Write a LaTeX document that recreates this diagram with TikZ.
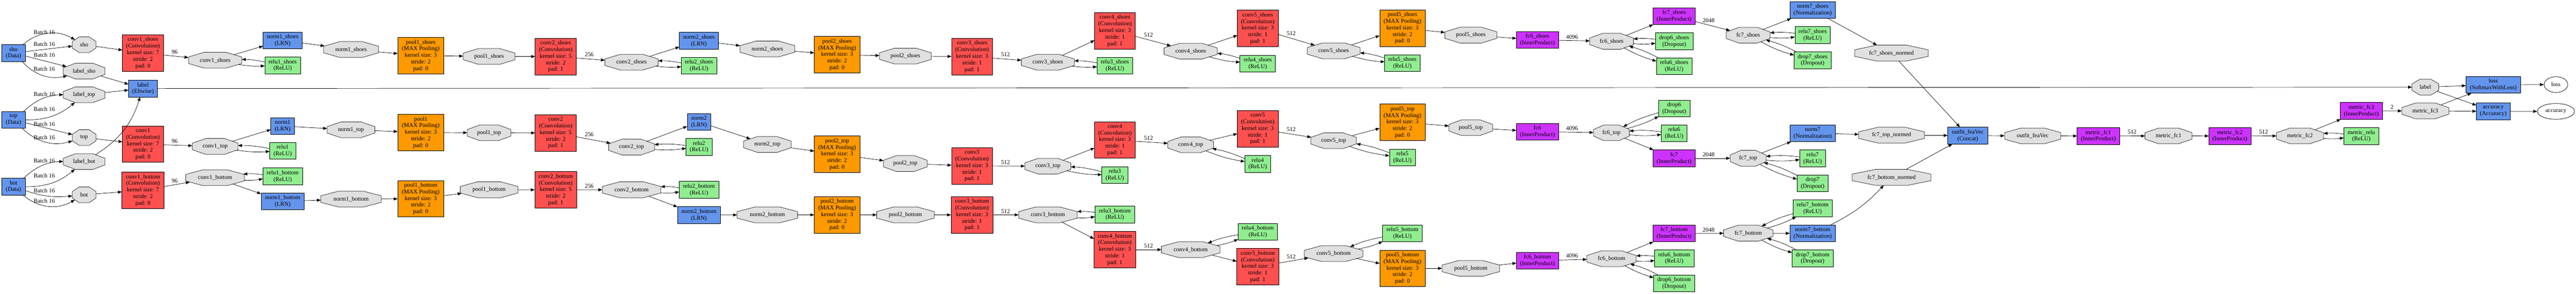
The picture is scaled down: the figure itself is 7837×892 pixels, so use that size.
\documentclass[tikz,border=0pt]{standalone}
\usepackage{fontspec}
\setmainfont{Liberation Serif}
\usetikzlibrary{arrows.meta,shapes.geometric}
\makeatletter
\pgfdeclareshape{gvoct}{%
  \inheritsavedanchors[from=rectangle]%
  \inheritanchor[from=rectangle]{center}%
  \inheritanchor[from=rectangle]{north}%
  \inheritanchor[from=rectangle]{south}%
  \inheritanchor[from=rectangle]{east}%
  \inheritanchor[from=rectangle]{west}%
  \inheritanchor[from=rectangle]{north east}%
  \inheritanchor[from=rectangle]{north west}%
  \inheritanchor[from=rectangle]{south east}%
  \inheritanchor[from=rectangle]{south west}%
  \backgroundpath{%
    \southwest \pgf@xa=\pgf@x \pgf@ya=\pgf@y
    \northeast \pgf@xb=\pgf@x \pgf@yb=\pgf@y
    \pgf@xc=\pgf@xb \advance\pgf@xc by -\pgf@xa
    \pgf@yc=\pgf@yb \advance\pgf@yc by -\pgf@ya
    \pgf@xc=0.293\pgf@xc
    \pgf@yc=0.293\pgf@yc
    \edef\gvXa{\the\pgf@xa}\edef\gvXb{\the\pgf@xb}%
    \edef\gvYa{\the\pgf@ya}\edef\gvYb{\the\pgf@yb}%
    \advance\pgf@xa by \pgf@xc \edef\gvXc{\the\pgf@xa}%
    \advance\pgf@xb by -\pgf@xc \edef\gvXd{\the\pgf@xb}%
    \advance\pgf@ya by \pgf@yc \edef\gvYc{\the\pgf@ya}%
    \advance\pgf@yb by -\pgf@yc \edef\gvYd{\the\pgf@yb}%
    \pgfpathmoveto{\pgfqpoint{\gvXa}{\gvYc}}%
    \pgfpathlineto{\pgfqpoint{\gvXa}{\gvYd}}%
    \pgfpathlineto{\pgfqpoint{\gvXc}{\gvYb}}%
    \pgfpathlineto{\pgfqpoint{\gvXd}{\gvYb}}%
    \pgfpathlineto{\pgfqpoint{\gvXb}{\gvYd}}%
    \pgfpathlineto{\pgfqpoint{\gvXb}{\gvYc}}%
    \pgfpathlineto{\pgfqpoint{\gvXd}{\gvYa}}%
    \pgfpathlineto{\pgfqpoint{\gvXc}{\gvYa}}%
    \pgfpathclose
  }%
  \anchorborder{%
    \edef\gvDx{\strip@pt\pgf@x}\edef\gvDy{\strip@pt\pgf@y}%
    \southwest \pgf@xa=\pgf@x \pgf@ya=\pgf@y
    \northeast
    \pgf@xc=\pgf@x \advance\pgf@xc by -\pgf@xa \pgf@xc=.5\pgf@xc
    \pgf@yc=\pgf@y \advance\pgf@yc by -\pgf@ya \pgf@yc=.5\pgf@yc
    \advance\pgf@xa by \pgf@xc \advance\pgf@ya by \pgf@yc
    \edef\gvCx{\the\pgf@xa}\edef\gvCy{\the\pgf@ya}%
    \edef\gvHw{\strip@pt\pgf@xc}\edef\gvHh{\strip@pt\pgf@yc}%
    \pgfmathsetmacro\gvU{max(abs(\gvDx)/\gvHw,0.001)}%
    \pgfmathsetmacro\gvV{max(abs(\gvDy)/\gvHh,0.001)}%
    \pgfmathsetmacro\gvT{min(min(1/\gvU,1/\gvV),1.414/(\gvU+\gvV))}%
    \pgfmathsetmacro\gvRx{\gvT*\gvDx}%
    \pgfmathsetmacro\gvRy{\gvT*\gvDy}%
    \pgf@x=\gvRx pt\relax \advance\pgf@x by \gvCx\relax
    \pgf@y=\gvRy pt\relax \advance\pgf@y by \gvCy\relax
  }%
}
\makeatother
\definecolor{convc}{HTML}{FF5050}
\definecolor{poolc}{HTML}{FF9900}
\definecolor{ipc}{HTML}{CC33FF}
\definecolor{bluc}{HTML}{6495ED}
\definecolor{grnc}{HTML}{90EE90}
\definecolor{blobc}{HTML}{E0E0E0}
\newcommand\convtxt[4]{#1\\(Convolution)\\kernel size: #2\\stride: #3\\pad: #4}
\newcommand\pooltxt[1]{#1\\(MAX Pooling)\\kernel size: 3\\stride: 2\\pad: 0}
\newcommand\inplc[2]{\draw[ar] (#1) to[bend right=6] (#2); \draw[ar] (#2) to[bend right=6] (#1);}
\tikzset{
  every node/.style={font=\fontsize{18}{20}\selectfont, align=center},
  lay/.style={rectangle, draw=black, line width=1.2pt, inner sep=1pt, outer sep=0pt},
  conv/.style={lay, fill=convc, minimum height=111pt},
  pool/.style={lay, fill=poolc, minimum height=111pt},
  ip/.style={lay, fill=ipc, minimum height=51pt},
  blu/.style={lay, fill=bluc, minimum height=51pt},
  grn/.style={lay, fill=grnc, minimum height=51pt},
  blob/.style={shape=gvoct, draw=black!85, fill=blobc, line width=1.2pt, minimum height=48pt, inner sep=1pt, outer sep=0pt},
  ell/.style={ellipse, draw=black, line width=1.2pt, minimum height=48pt, inner sep=0pt},
  ar/.style={-{Triangle[length=12pt,width=9pt]}, line width=1.1pt, black},
  lab/.style={inner sep=0pt},
}
\begin{document}
\begin{tikzpicture}[x=1pt,y=1pt]
\useasboundingbox (0,0) rectangle (7837,-892);
% ---------- inputs
\node[blu, minimum width=72pt] (d_sho) at (41,-161) {sho\\(Data)};
\node[blu, minimum width=72pt] (d_top) at (41,-364) {top\\(Data)};
\node[blu, minimum width=72pt] (d_bot) at (41,-567) {bot\\(Data)};
\node[blob, minimum width=72pt] (b_sho) at (256,-136) {sho};
\node[blob, minimum width=127pt] (b_label_sho) at (256,-216) {label\_sho};
\node[blob, minimum width=127pt] (b_label_top) at (256,-288) {label\_top};
\node[blob, minimum width=72pt] (b_top) at (256,-418) {top};
\node[blob, minimum width=127pt] (b_label_bot) at (256,-491) {label\_bot};
\node[blob, minimum width=72pt] (b_bot) at (256,-592) {bot};
\node[conv, minimum width=125pt] (l_conv1_shoes) at (435,-161) {\convtxt{conv1\_shoes}{7}{2}{0}};
\node[blu, minimum width=88pt] (l_label) at (435,-269) {label\\(Eltwise)};
\node[conv, minimum width=125pt] (l_conv1) at (435,-438) {\convtxt{conv1}{7}{2}{0}};
\node[conv, minimum width=128pt] (l_conv1_bottom) at (435,-578) {\convtxt{conv1\_bottom}{7}{2}{0}};
% ---------- shoes branch
\node[blob, minimum width=162pt] (b_conv1_shoes) at (654.5,-183) {conv1\_shoes};
\node[blu, minimum width=119pt] (l_norm1_shoes) at (860,-122.6) {norm1\_shoes\\(LRN)};
\node[grn, minimum width=109pt] (l_relu1_shoes) at (860,-198.5) {relu1\_shoes\\(ReLU)};
\node[blob, minimum width=167.5pt] (b_norm1_shoes) at (1068,-150.5) {norm1\_shoes};
\node[pool, minimum width=140pt] (l_pool1_shoes) at (1280,-169) {\pooltxt{pool1\_shoes}};
\node[blob, minimum width=158pt] (b_pool1_shoes) at (1488,-171.5) {pool1\_shoes};
\node[conv, minimum width=125pt] (l_conv2_shoes) at (1690.6,-171.8) {\convtxt{conv2\_shoes}{5}{2}{1}};
\node[blob, minimum width=162pt] (b_conv2_shoes) at (1921.3,-189) {conv2\_shoes};
\node[blu, minimum width=119pt] (l_norm2_shoes) at (2126.5,-123.7) {norm2\_shoes\\(LRN)};
\node[grn, minimum width=108pt] (l_relu2_shoes) at (2126.6,-200) {relu2\_shoes\\(ReLU)};
\node[blob, minimum width=167pt] (b_norm2_shoes) at (2334.5,-148.8) {norm2\_shoes};
\node[pool, minimum width=139pt] (l_pool2_shoes) at (2546.7,-166.4) {\pooltxt{pool2\_shoes}};
\node[blob, minimum width=158pt] (b_pool2_shoes) at (2754.5,-170.4) {pool2\_shoes};
\node[conv, minimum width=125pt] (l_conv3_shoes) at (2957.3,-172) {\convtxt{conv3\_shoes}{3}{1}{1}};
\node[blob, minimum width=161pt] (b_conv3_shoes) at (3187.9,-189) {conv3\_shoes};
\node[conv, minimum width=124pt] (l_conv4_shoes) at (3392,-93.6) {\convtxt{conv4\_shoes}{3}{1}{1}};
\node[grn, minimum width=109pt] (l_relu3_shoes) at (3391.8,-200) {relu3\_shoes\\(ReLU)};
\node[blob, minimum width=162pt] (b_conv4_shoes) at (3622.5,-155.6) {conv4\_shoes};
\node[conv, minimum width=124pt] (l_conv5_shoes) at (3826.5,-86.5) {\convtxt{conv5\_shoes}{3}{1}{1}};
\node[grn, minimum width=108pt] (l_relu4_shoes) at (3826.4,-193.4) {relu4\_shoes\\(ReLU)};
\node[blob, minimum width=161pt] (b_conv5_shoes) at (4057.2,-154.5) {conv5\_shoes};
\node[pool, minimum width=139pt] (l_pool5_shoes) at (4266.8,-85.4) {\pooltxt{pool5\_shoes}};
\node[grn, minimum width=108pt] (l_relu5_shoes) at (4266.4,-192) {relu5\_shoes\\(ReLU)};
\node[blob, minimum width=158pt] (b_pool5_shoes) at (4474.7,-106.7) {pool5\_shoes};
\node[ip, minimum width=128pt] (l_fc6_shoes) at (4677.3,-121.2) {fc6\_shoes\\(InnerProduct)};
\node[blob, minimum width=133pt] (b_fc6_shoes) at (4903,-125.5) {fc6\_shoes};
\node[ip, minimum width=128pt] (l_fc7_shoes) at (5093.2,-49.2) {fc7\_shoes\\(InnerProduct)};
\node[grn, minimum width=114pt] (l_drop6_shoes) at (5093.4,-125.5) {drop6\_shoes\\(Dropout)};
\node[grn, minimum width=108pt] (l_relu6_shoes) at (5093.2,-201) {relu6\_shoes\\(ReLU)};
\node[blob, minimum width=133pt] (b_fc7_shoes) at (5318.5,-107) {fc7\_shoes};
\node[blu, minimum width=139pt] (l_norm7_shoes) at (5514.7,-30.7) {norm7\_shoes\\(Normalization)};
\node[grn, minimum width=108pt] (l_relu7_shoes) at (5514.6,-106.7) {relu7\_shoes\\(ReLU)};
\node[grn, minimum width=113pt] (l_drop7_shoes) at (5514.6,-183) {drop7\_shoes\\(Dropout)};
\node[blob, minimum width=224pt] (b_fc7_shoes_normed) at (5754.4,-161.3) {fc7\_shoes\_normed};
% ---------- top branch
\node[blob, minimum width=139pt] (b_conv1_top) at (654.5,-445) {conv1\_top};
\node[blu, minimum width=72pt] (l_norm1) at (860,-383) {norm1\\(LRN)};
\node[grn, minimum width=79pt] (l_relu1) at (860,-458.5) {relu1\\(ReLU)};
\node[blob, minimum width=145pt] (b_norm1_top) at (1067.7,-394.5) {norm1\_top};
\node[pool, minimum width=140pt] (l_pool1) at (1280,-402.5) {\pooltxt{pool1}};
\node[blob, minimum width=133pt] (b_pool1_top) at (1488,-403.6) {pool1\_top};
\node[conv, minimum width=125pt] (l_conv2) at (1690.6,-404) {\convtxt{conv2}{5}{2}{1}};
\node[blob, minimum width=139pt] (b_conv2_top) at (1921.3,-447) {conv2\_top};
\node[blu, minimum width=72pt] (l_norm2) at (2126.8,-370.4) {norm2\\(LRN)};
\node[grn, minimum width=79pt] (l_relu2) at (2126.6,-446.3) {relu2\\(ReLU)};
\node[blob, minimum width=145pt] (b_norm2_top) at (2334.5,-439) {norm2\_top};
\node[pool, minimum width=139pt] (l_pool2_top) at (2546.7,-469) {\pooltxt{pool2\_top}};
\node[blob, minimum width=133pt] (b_pool2_top) at (2754.3,-497) {pool2\_top};
\node[conv, minimum width=125pt] (l_conv3) at (2957.3,-504.3) {\convtxt{conv3}{3}{1}{1}};
\node[blob, minimum width=140pt] (b_conv3_top) at (3187.8,-505) {conv3\_top};
\node[conv, minimum width=124pt] (l_conv4) at (3392,-425.3) {\convtxt{conv4}{3}{1}{1}};
\node[grn, minimum width=79pt] (l_relu3) at (3391.7,-531.7) {relu3\\(ReLU)};
\node[blob, minimum width=139pt] (b_conv4_top) at (3622.5,-440) {conv4\_top};
\node[conv, minimum width=124pt] (l_conv5) at (3826.5,-391.7) {\convtxt{conv5}{3}{1}{1}};
\node[grn, minimum width=79pt] (l_relu4) at (3826.4,-498) {relu4\\(ReLU)};
\node[blob, minimum width=139pt] (b_conv5_top) at (4057.2,-427.5) {conv5\_top};
\node[pool, minimum width=139pt] (l_pool5_top) at (4266.8,-371.5) {\pooltxt{pool5\_top}};
\node[grn, minimum width=79pt] (l_relu5) at (4266.6,-478.7) {relu5\\(ReLU)};
\node[blob, minimum width=133pt] (b_pool5_top) at (4474.5,-388) {pool5\_top};
\node[ip, minimum width=128pt] (l_fc6) at (4677.3,-400) {fc6\\(InnerProduct)};
\node[blob, minimum width=109pt] (b_fc6_top) at (4902.5,-403.6) {fc6\_top};
\node[grn, minimum width=95pt] (l_drop6) at (5093.4,-329.4) {drop6\\(Dropout)};
\node[grn, minimum width=79pt] (l_relu6) at (5093.4,-405) {relu6\\(ReLU)};
\node[ip, minimum width=128pt] (l_fc7) at (5093.2,-481) {fc7\\(InnerProduct)};
\node[blob, minimum width=109pt] (b_fc7_top) at (5318.3,-481) {fc7\_top};
\node[blu, minimum width=139pt] (l_norm7) at (5514.7,-405) {norm7\\(Normalization)};
\node[grn, minimum width=79pt] (l_relu7) at (5514.5,-481) {relu7\\(ReLU)};
\node[grn, minimum width=95pt] (l_drop7) at (5514.4,-557.3) {drop7\\(Dropout)};
\node[blob, minimum width=200pt] (b_fc7_top_normed) at (5754.6,-410.7) {fc7\_top\_normed};
% ---------- bottom branch
\node[blob, minimum width=178pt] (b_conv1_bottom) at (654.2,-540) {conv1\_bottom};
\node[grn, minimum width=120pt] (l_relu1_bottom) at (860,-536) {relu1\_bottom\\(ReLU)};
\node[blu, minimum width=131pt] (l_norm1_bottom) at (860,-612) {norm1\_bottom\\(LRN)};
\node[blob, minimum width=183.5pt] (b_norm1_bottom) at (1068,-605) {norm1\_bottom};
\node[pool, minimum width=140pt] (l_pool1_bottom) at (1280,-604) {\pooltxt{pool1\_bottom}};
\node[blob, minimum width=175pt] (b_pool1_bottom) at (1488,-576.6) {pool1\_bottom};
\node[conv, minimum width=127pt] (l_conv2_bottom) at (1690.6,-577) {\convtxt{conv2\_bottom}{5}{2}{1}};
\node[blob, minimum width=178pt] (b_conv2_bottom) at (1921.5,-576.6) {conv2\_bottom};
\node[grn, minimum width=120pt] (l_relu2_bottom) at (2126.5,-577) {relu2\_bottom\\(ReLU)};
\node[blu, minimum width=131pt] (l_norm2_bottom) at (2126.5,-653.4) {norm2\_bottom\\(LRN)};
\node[blob, minimum width=184pt] (b_norm2_bottom) at (2334.5,-653) {norm2\_bottom};
\node[pool, minimum width=139pt] (l_pool2_bottom) at (2546.7,-652.8) {\pooltxt{pool2\_bottom}};
\node[blob, minimum width=175pt] (b_pool2_bottom) at (2754.6,-653) {pool2\_bottom};
\node[conv, minimum width=127.5pt] (l_conv3_bottom) at (2957.2,-653) {\convtxt{conv3\_bottom}{3}{1}{1}};
\node[blob, minimum width=178pt] (b_conv3_bottom) at (3188,-653) {conv3\_bottom};
\node[grn, minimum width=121pt] (l_relu3_bottom) at (3391.6,-651.7) {relu3\_bottom\\(ReLU)};
\node[conv, minimum width=127pt] (l_conv4_bottom) at (3391.8,-758.6) {\convtxt{conv4\_bottom}{3}{1}{1}};
\node[blob, minimum width=178pt] (b_conv4_bottom) at (3622.5,-758.6) {conv4\_bottom};
\node[grn, minimum width=120pt] (l_relu4_bottom) at (3826.6,-704) {relu4\_bottom\\(ReLU)};
\node[conv, minimum width=127.5pt] (l_conv5_bottom) at (3826.5,-810.5) {\convtxt{conv5\_bottom}{3}{1}{1}};
\node[blob, minimum width=178pt] (b_conv5_bottom) at (4057.2,-770.6) {conv5\_bottom};
\node[grn, minimum width=120pt] (l_relu5_bottom) at (4266.4,-709.2) {relu5\_bottom\\(ReLU)};
\node[pool, minimum width=139pt] (l_pool5_bottom) at (4266.8,-815.5) {\pooltxt{pool5\_bottom}};
\node[blob, minimum width=175pt] (b_pool5_bottom) at (4474.6,-815.5) {pool5\_bottom};
\node[ip, minimum width=128pt] (l_fc6_bottom) at (4677.3,-792.2) {fc6\_bottom\\(InnerProduct)};
\node[blob, minimum width=150pt] (b_fc6_bottom) at (4902.7,-786.3) {fc6\_bottom};
\node[ip, minimum width=128pt] (l_fc7_bottom) at (5093.2,-709.2) {fc7\_bottom\\(InnerProduct)};
\node[grn, minimum width=120pt] (l_relu6_bottom) at (5093.4,-784.8) {relu6\_bottom\\(ReLU)};
\node[grn, minimum width=125pt] (l_drop6_bottom) at (5093.2,-861) {drop6\_bottom\\(Dropout)};
\node[blob, minimum width=150pt] (b_fc7_bottom) at (5318.7,-708.6) {fc7\_bottom};
\node[grn, minimum width=120pt] (l_relu7_bottom) at (5514.4,-633.2) {relu7\_bottom\\(ReLU)};
\node[blu, minimum width=139pt] (l_norm7_bottom) at (5514.7,-709.2) {norm7\_bottom\\(Normalization)};
\node[grn, minimum width=125pt] (l_drop7_bottom) at (5514.4,-784.8) {drop7\_bottom\\(Dropout)};
\node[blob, minimum width=240pt] (b_fc7_bottom_normed) at (5754.6,-539) {fc7\_bottom\_normed};
% ---------- head
\node[blu, minimum width=122pt] (l_outfit) at (5986.3,-412) {outfit\_feaVec\\(Concat)};
\node[blob, minimum width=171pt] (b_outfit) at (6184,-413) {outfit\_feaVec};
\node[ip, minimum width=129pt] (l_mfc1) at (6383.7,-413.3) {metric\_fc1\\(InnerProduct)};
\node[blob, minimum width=143pt] (b_mfc1) at (6597.3,-413) {metric\_fc1};
\node[ip, minimum width=128pt] (l_mfc2) at (6783.9,-413.3) {metric\_fc2\\(InnerProduct)};
\node[blob, minimum width=143pt] (b_mfc2) at (6997.3,-413) {metric\_fc2};
\node[ip, minimum width=128pt] (l_mfc3) at (7184,-337.1) {metric\_fc3\\(InnerProduct)};
\node[grn, minimum width=107pt] (l_mrelu) at (7184,-413.3) {metric\_relu\\(ReLU)};
\node[blob, minimum width=143pt] (b_mfc3) at (7378.6,-337) {metric\_fc3};
\node[blob, minimum width=81pt] (b_label) at (7378.7,-264.8) {label};
\node[blu, minimum width=167pt] (l_loss) at (7585.3,-257.4) {loss\\(SoftmaxWithLoss)};
\node[blu, minimum width=103pt] (l_acc) at (7585.2,-338.4) {accuracy\\(Accuracy)};
\node[ell, minimum width=72pt] (e_loss) at (7776,-257) {loss};
\node[ell, minimum width=113pt] (e_acc) at (7775.8,-338.5) {accuracy};
% ---------- edge labels
\foreach \i/\yy in {1/97.9,2/133.7,3/167.8,4/208.8,5/285.6,6/331.7,7/376.6,8/417.6,9/488.7,10/533.6,11/579.7,12/609.9}
  \node[lab] (bl\i) at (134.7,-\yy) {Batch 16};
\node[lab] (t96a) at (531.6,-157.6) {96};
\node[lab] (t96b) at (531.6,-429.5) {96};
\node[lab] (t96c) at (531.6,-549) {96};
\node[lab] (t256a) at (1792.5,-165.6) {256};
\node[lab] (t256b) at (1792.5,-408.5) {256};
\node[lab] (t256c) at (1792.5,-565.5) {256};
\node[lab] (t3a) at (3059.2,-165.6) {512};
\node[lab] (t3b) at (3059.2,-492.7) {512};
\node[lab] (t3c) at (3059.2,-641.7) {512};
\node[lab] (t4a) at (3494,-105.8) {512};
\node[lab] (t4b) at (3494,-419.9) {512};
\node[lab] (t4c) at (3494,-747.6) {512};
\node[lab] (t5a) at (3928.2,-101.8) {512};
\node[lab] (t5b) at (3928.2,-393.7) {512};
\node[lab] (t5c) at (3928.2,-779.4) {512};
\node[lab] (t6a) at (4782.8,-112.6) {4096};
\node[lab] (t6b) at (4782.8,-389.7) {4096};
\node[lab] (t6c) at (4782.8,-776.6) {4096};
\node[lab] (t7a) at (5198,-62.6) {2048};
\node[lab] (t7b) at (5198,-470) {2048};
\node[lab] (t7c) at (5198,-698) {2048};
\node[lab] (tm1) at (6486.4,-401.6) {512};
\node[lab] (tm2) at (6886.4,-401.6) {512};
\node[lab] (tm3) at (7277.5,-326) {2};
% ---------- edges: inputs
\draw[ar] (d_sho) to[bend left=35] (b_sho);
\draw[ar] (d_sho) -- (b_sho);
\draw[ar] (d_sho) -- (b_label_sho);
\draw[ar] (d_sho) to[bend right=30] (b_label_sho);
\draw[ar] (d_top) to[bend left=20] (b_label_top);
\draw[ar] (d_top) to[bend right=20] (b_label_top);
\draw[ar] (d_top) -- (b_top);
\draw[ar] (d_top) to[bend right=30] (b_top);
\draw[ar] (d_bot) to[bend left=20] (b_label_bot);
\draw[ar] (d_bot) to[bend right=20] (b_label_bot);
\draw[ar] (d_bot) to[bend right=12] (b_bot);
\draw[ar] (d_bot) to[bend right=35] (b_bot);
\draw[ar] (b_label_sho) -- (l_label);
\draw[ar] (b_label_top) -- (l_label);
\draw[ar] (b_label_bot) to[bend right=20] (l_label);
\draw[ar] (l_label) -- (b_label);
\draw[ar] (b_sho) -- (l_conv1_shoes);
\draw[ar] (b_top) -- (l_conv1);
\draw[ar] (b_bot) -- (l_conv1_bottom);
% ---------- edges: shoes
\draw[ar] (l_conv1_shoes) -- (b_conv1_shoes);
\draw[ar] (b_conv1_shoes) -- (l_norm1_shoes);
\inplc{l_relu1_shoes}{b_conv1_shoes}
\draw[ar] (l_norm1_shoes) -- (b_norm1_shoes);
\draw[ar] (b_norm1_shoes) -- (l_pool1_shoes);
\draw[ar] (l_pool1_shoes) -- (b_pool1_shoes);
\draw[ar] (b_pool1_shoes) -- (l_conv2_shoes);
\draw[ar] (l_conv2_shoes) -- (b_conv2_shoes);
\draw[ar] (b_conv2_shoes) -- (l_norm2_shoes);
\inplc{l_relu2_shoes}{b_conv2_shoes}
\draw[ar] (l_norm2_shoes) -- (b_norm2_shoes);
\draw[ar] (b_norm2_shoes) -- (l_pool2_shoes);
\draw[ar] (l_pool2_shoes) -- (b_pool2_shoes);
\draw[ar] (b_pool2_shoes) -- (l_conv3_shoes);
\draw[ar] (l_conv3_shoes) -- (b_conv3_shoes);
\draw[ar] (b_conv3_shoes) -- (l_conv4_shoes);
\inplc{l_relu3_shoes}{b_conv3_shoes}
\draw[ar] (l_conv4_shoes) -- (b_conv4_shoes);
\draw[ar] (b_conv4_shoes) -- (l_conv5_shoes);
\inplc{l_relu4_shoes}{b_conv4_shoes}
\draw[ar] (l_conv5_shoes) -- (b_conv5_shoes);
\draw[ar] (b_conv5_shoes) -- (l_pool5_shoes);
\inplc{l_relu5_shoes}{b_conv5_shoes}
\draw[ar] (l_pool5_shoes) -- (b_pool5_shoes);
\draw[ar] (b_pool5_shoes) -- (l_fc6_shoes);
\draw[ar] (l_fc6_shoes) -- (b_fc6_shoes);
\draw[ar] (b_fc6_shoes) -- (l_fc7_shoes);
\inplc{l_drop6_shoes}{b_fc6_shoes}
\inplc{l_relu6_shoes}{b_fc6_shoes}
\draw[ar] (l_fc7_shoes) -- (b_fc7_shoes);
\draw[ar] (b_fc7_shoes) -- (l_norm7_shoes);
\inplc{l_relu7_shoes}{b_fc7_shoes}
\inplc{l_drop7_shoes}{b_fc7_shoes}
\draw[ar] (l_norm7_shoes) -- (b_fc7_shoes_normed);
\draw[ar] (b_fc7_shoes_normed) -- (l_outfit);
% ---------- edges: top
\draw[ar] (l_conv1) -- (b_conv1_top);
\draw[ar] (b_conv1_top) -- (l_norm1);
\inplc{l_relu1}{b_conv1_top}
\draw[ar] (l_norm1) -- (b_norm1_top);
\draw[ar] (b_norm1_top) -- (l_pool1);
\draw[ar] (l_pool1) -- (b_pool1_top);
\draw[ar] (b_pool1_top) -- (l_conv2);
\draw[ar] (l_conv2) -- (b_conv2_top);
\draw[ar] (b_conv2_top) -- (l_norm2);
\inplc{l_relu2}{b_conv2_top}
\draw[ar] (l_norm2) -- (b_norm2_top);
\draw[ar] (b_norm2_top) -- (l_pool2_top);
\draw[ar] (l_pool2_top) -- (b_pool2_top);
\draw[ar] (b_pool2_top) -- (l_conv3);
\draw[ar] (l_conv3) -- (b_conv3_top);
\draw[ar] (b_conv3_top) -- (l_conv4);
\inplc{l_relu3}{b_conv3_top}
\draw[ar] (l_conv4) -- (b_conv4_top);
\draw[ar] (b_conv4_top) -- (l_conv5);
\inplc{l_relu4}{b_conv4_top}
\draw[ar] (l_conv5) -- (b_conv5_top);
\draw[ar] (b_conv5_top) -- (l_pool5_top);
\inplc{l_relu5}{b_conv5_top}
\draw[ar] (l_pool5_top) -- (b_pool5_top);
\draw[ar] (b_pool5_top) -- (l_fc6);
\draw[ar] (l_fc6) -- (b_fc6_top);
\inplc{l_drop6}{b_fc6_top}
\inplc{l_relu6}{b_fc6_top}
\draw[ar] (b_fc6_top) -- (l_fc7);
\draw[ar] (l_fc7) -- (b_fc7_top);
\draw[ar] (b_fc7_top) -- (l_norm7);
\inplc{l_relu7}{b_fc7_top}
\inplc{l_drop7}{b_fc7_top}
\draw[ar] (l_norm7) -- (b_fc7_top_normed);
\draw[ar] (b_fc7_top_normed) -- (l_outfit);
% ---------- edges: bottom
\draw[ar] (l_conv1_bottom) -- (b_conv1_bottom);
\inplc{l_relu1_bottom}{b_conv1_bottom}
\draw[ar] (b_conv1_bottom) -- (l_norm1_bottom);
\draw[ar] (l_norm1_bottom) -- (b_norm1_bottom);
\draw[ar] (b_norm1_bottom) -- (l_pool1_bottom);
\draw[ar] (l_pool1_bottom) -- (b_pool1_bottom);
\draw[ar] (b_pool1_bottom) -- (l_conv2_bottom);
\draw[ar] (l_conv2_bottom) -- (b_conv2_bottom);
\inplc{l_relu2_bottom}{b_conv2_bottom}
\draw[ar] (b_conv2_bottom) -- (l_norm2_bottom);
\draw[ar] (l_norm2_bottom) -- (b_norm2_bottom);
\draw[ar] (b_norm2_bottom) -- (l_pool2_bottom);
\draw[ar] (l_pool2_bottom) -- (b_pool2_bottom);
\draw[ar] (b_pool2_bottom) -- (l_conv3_bottom);
\draw[ar] (l_conv3_bottom) -- (b_conv3_bottom);
\inplc{l_relu3_bottom}{b_conv3_bottom}
\draw[ar] (b_conv3_bottom) -- (l_conv4_bottom);
\draw[ar] (l_conv4_bottom) -- (b_conv4_bottom);
\inplc{l_relu4_bottom}{b_conv4_bottom}
\draw[ar] (b_conv4_bottom) -- (l_conv5_bottom);
\draw[ar] (l_conv5_bottom) -- (b_conv5_bottom);
\inplc{l_relu5_bottom}{b_conv5_bottom}
\draw[ar] (b_conv5_bottom) -- (l_pool5_bottom);
\draw[ar] (l_pool5_bottom) -- (b_pool5_bottom);
\draw[ar] (b_pool5_bottom) -- (l_fc6_bottom);
\draw[ar] (l_fc6_bottom) -- (b_fc6_bottom);
\draw[ar] (b_fc6_bottom) -- (l_fc7_bottom);
\inplc{l_relu6_bottom}{b_fc6_bottom}
\inplc{l_drop6_bottom}{b_fc6_bottom}
\draw[ar] (l_fc7_bottom) -- (b_fc7_bottom);
\inplc{l_relu7_bottom}{b_fc7_bottom}
\draw[ar] (b_fc7_bottom) -- (l_norm7_bottom);
\inplc{l_drop7_bottom}{b_fc7_bottom}
\draw[ar] (l_norm7_bottom) to[bend right=10] (b_fc7_bottom_normed);
\draw[ar] (b_fc7_bottom_normed) -- (l_outfit);
% ---------- edges: head
\draw[ar] (l_outfit) -- (b_outfit);
\draw[ar] (b_outfit) -- (l_mfc1);
\draw[ar] (l_mfc1) -- (b_mfc1);
\draw[ar] (b_mfc1) -- (l_mfc2);
\draw[ar] (l_mfc2) -- (b_mfc2);
\draw[ar] (b_mfc2) -- (l_mfc3);
\inplc{l_mrelu}{b_mfc2}
\draw[ar] (l_mfc3) -- (b_mfc3);
\draw[ar] (b_label) -- (l_loss);
\draw[ar] (b_label) -- (l_acc);
\draw[ar] (b_mfc3) -- (l_loss);
\draw[ar] (b_mfc3) -- (l_acc);
\draw[ar] (l_loss) -- (e_loss);
\draw[ar] (l_acc) -- (e_acc);
\end{tikzpicture}
\end{document}
